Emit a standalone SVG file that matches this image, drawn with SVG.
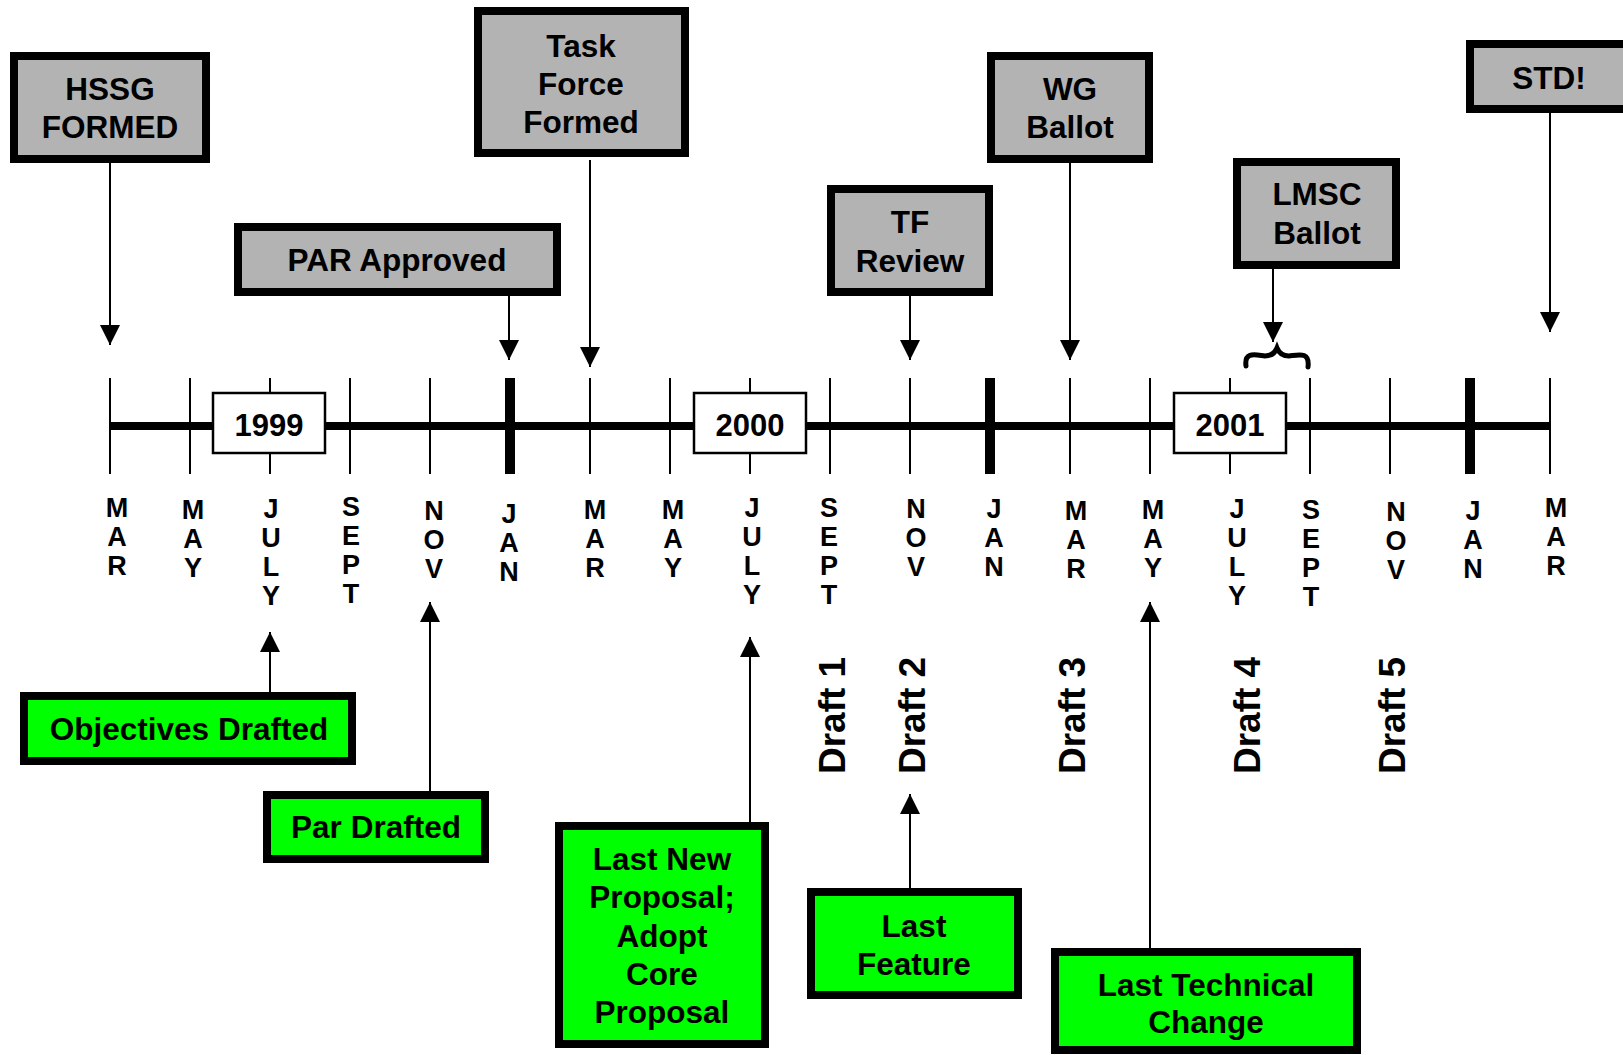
<svg xmlns="http://www.w3.org/2000/svg" width="1623" height="1055" viewBox="0 0 1623 1055">
<defs>
<style>
text{font-family:"Liberation Sans",Arial,sans-serif;font-weight:bold;fill:#000}
.gray{fill:#b3b3b3;stroke:#000;stroke-width:8}
.green{fill:#00ff00;stroke:#000;stroke-width:8}
.lbl{font-size:31.5px;text-anchor:middle}
.yr{fill:#fff;stroke:#000;stroke-width:2.5}
.yrt{font-size:31px;text-anchor:middle}
.mon{font-size:27px;text-anchor:middle}
.draft{font-size:37px}
.tick{stroke:#000;stroke-width:2}
.jan{stroke:#000;stroke-width:10}
.conn{stroke:#000;stroke-width:2;fill:none}
</style>
<marker id="ah" viewBox="0 0 20 20" refX="20" refY="10" markerWidth="21" markerHeight="20" markerUnits="userSpaceOnUse" orient="auto">
<path d="M0,0 L20,10 L0,20 z" fill="#000"/>
</marker>
</defs>
<rect width="1623" height="1055" fill="#fff"/>

<g id="timeline">
<line x1="110" y1="426" x2="1550" y2="426" stroke="#000" stroke-width="8"/>
<line class="tick" x1="110" y1="378" x2="110" y2="474"/>
<line class="tick" x1="190" y1="378" x2="190" y2="474"/>
<line class="tick" x1="270" y1="378" x2="270" y2="474"/>
<line class="tick" x1="350" y1="378" x2="350" y2="474"/>
<line class="tick" x1="430" y1="378" x2="430" y2="474"/>
<line class="jan" x1="510" y1="378" x2="510" y2="474"/>
<line class="tick" x1="590" y1="378" x2="590" y2="474"/>
<line class="tick" x1="670" y1="378" x2="670" y2="474"/>
<line class="tick" x1="750" y1="378" x2="750" y2="474"/>
<line class="tick" x1="830" y1="378" x2="830" y2="474"/>
<line class="tick" x1="910" y1="378" x2="910" y2="474"/>
<line class="jan" x1="990" y1="378" x2="990" y2="474"/>
<line class="tick" x1="1070" y1="378" x2="1070" y2="474"/>
<line class="tick" x1="1150" y1="378" x2="1150" y2="474"/>
<line class="tick" x1="1230" y1="378" x2="1230" y2="474"/>
<line class="tick" x1="1310" y1="378" x2="1310" y2="474"/>
<line class="tick" x1="1390" y1="378" x2="1390" y2="474"/>
<line class="jan" x1="1470" y1="378" x2="1470" y2="474"/>
<line class="tick" x1="1550" y1="378" x2="1550" y2="474"/>
</g>

<g id="year-1999"><rect class="yr" x="213" y="393" width="112" height="60"/><text class="yrt" x="269" y="436">1999</text></g>
<g id="year-2000"><rect class="yr" x="694" y="393" width="112" height="60"/><text class="yrt" x="750" y="436">2000</text></g>
<g id="year-2001"><rect class="yr" x="1174" y="393" width="112" height="60"/><text class="yrt" x="1230" y="436">2001</text></g>

<g id="months">
<text class="mon" y="517"><tspan x="117">M</tspan><tspan x="117" dy="29">A</tspan><tspan x="117" dy="29">R</tspan></text>
<text class="mon" y="519"><tspan x="193">M</tspan><tspan x="193" dy="29">A</tspan><tspan x="193" dy="29">Y</tspan></text>
<text class="mon" y="518"><tspan x="271">J</tspan><tspan x="271" dy="29">U</tspan><tspan x="271" dy="29">L</tspan><tspan x="271" dy="29">Y</tspan></text>
<text class="mon" y="516"><tspan x="351">S</tspan><tspan x="351" dy="29">E</tspan><tspan x="351" dy="29">P</tspan><tspan x="351" dy="29">T</tspan></text>
<text class="mon" y="520"><tspan x="434">N</tspan><tspan x="434" dy="29">O</tspan><tspan x="434" dy="29">V</tspan></text>
<text class="mon" y="523"><tspan x="509">J</tspan><tspan x="509" dy="29">A</tspan><tspan x="509" dy="29">N</tspan></text>
<text class="mon" y="519"><tspan x="595">M</tspan><tspan x="595" dy="29">A</tspan><tspan x="595" dy="29">R</tspan></text>
<text class="mon" y="519"><tspan x="673">M</tspan><tspan x="673" dy="29">A</tspan><tspan x="673" dy="29">Y</tspan></text>
<text class="mon" y="517"><tspan x="752">J</tspan><tspan x="752" dy="29">U</tspan><tspan x="752" dy="29">L</tspan><tspan x="752" dy="29">Y</tspan></text>
<text class="mon" y="517"><tspan x="829">S</tspan><tspan x="829" dy="29">E</tspan><tspan x="829" dy="29">P</tspan><tspan x="829" dy="29">T</tspan></text>
<text class="mon" y="518"><tspan x="916">N</tspan><tspan x="916" dy="29">O</tspan><tspan x="916" dy="29">V</tspan></text>
<text class="mon" y="518"><tspan x="994">J</tspan><tspan x="994" dy="29">A</tspan><tspan x="994" dy="29">N</tspan></text>
<text class="mon" y="520"><tspan x="1076">M</tspan><tspan x="1076" dy="29">A</tspan><tspan x="1076" dy="29">R</tspan></text>
<text class="mon" y="519"><tspan x="1153">M</tspan><tspan x="1153" dy="29">A</tspan><tspan x="1153" dy="29">Y</tspan></text>
<text class="mon" y="518"><tspan x="1237">J</tspan><tspan x="1237" dy="29">U</tspan><tspan x="1237" dy="29">L</tspan><tspan x="1237" dy="29">Y</tspan></text>
<text class="mon" y="519"><tspan x="1311">S</tspan><tspan x="1311" dy="29">E</tspan><tspan x="1311" dy="29">P</tspan><tspan x="1311" dy="29">T</tspan></text>
<text class="mon" y="521"><tspan x="1396">N</tspan><tspan x="1396" dy="29">O</tspan><tspan x="1396" dy="29">V</tspan></text>
<text class="mon" y="520"><tspan x="1473">J</tspan><tspan x="1473" dy="29">A</tspan><tspan x="1473" dy="29">N</tspan></text>
<text class="mon" y="517"><tspan x="1556">M</tspan><tspan x="1556" dy="29">A</tspan><tspan x="1556" dy="29">R</tspan></text>
</g>

<g id="drafts">
<text class="draft" transform="translate(845,774) rotate(-90)">Draft 1</text>
<text class="draft" transform="translate(925,774) rotate(-90)">Draft 2</text>
<text class="draft" transform="translate(1085,774) rotate(-90)">Draft 3</text>
<text class="draft" transform="translate(1260,774) rotate(-90)">Draft 4</text>
<text class="draft" transform="translate(1405,774) rotate(-90)">Draft 5</text>
</g>

<g id="connectors">
<line class="conn" x1="110" y1="163" x2="110" y2="345" marker-end="url(#ah)"/>
<line class="conn" x1="509" y1="296" x2="509" y2="360" marker-end="url(#ah)"/>
<line class="conn" x1="590" y1="160" x2="590" y2="367" marker-end="url(#ah)"/>
<line class="conn" x1="910" y1="296" x2="910" y2="360" marker-end="url(#ah)"/>
<line class="conn" x1="1070" y1="163" x2="1070" y2="360" marker-end="url(#ah)"/>
<line class="conn" x1="1273" y1="269" x2="1273" y2="342" marker-end="url(#ah)"/>
<line class="conn" x1="1550" y1="113" x2="1550" y2="332" marker-end="url(#ah)"/>
<line class="conn" x1="270" y1="692" x2="270" y2="632" marker-end="url(#ah)"/>
<line class="conn" x1="430" y1="791" x2="430" y2="602" marker-end="url(#ah)"/>
<line class="conn" x1="750" y1="822" x2="750" y2="637" marker-end="url(#ah)"/>
<line class="conn" x1="910" y1="888" x2="910" y2="794" marker-end="url(#ah)"/>
<line class="conn" x1="1150" y1="948" x2="1150" y2="602" marker-end="url(#ah)"/>
<path d="M1246,366 C1244,351 1256,355 1265,356 C1271,356 1275,353 1277,348 C1279,353 1283,356 1289,356 C1298,355 1310,351 1308,367" fill="none" stroke="#000" stroke-width="5" stroke-linecap="round"/>
</g>

<g id="hssg"><rect class="gray" x="14" y="56" width="192" height="103"/><text class="lbl" x="110" y="100">HSSG</text><text class="lbl" x="110" y="138">FORMED</text></g>
<g id="task-force"><rect class="gray" x="478" y="11" width="207" height="142"/><text class="lbl" x="581" y="57">Task</text><text class="lbl" x="581" y="95">Force</text><text class="lbl" x="581" y="133">Formed</text></g>
<g id="par-approved"><rect class="gray" x="238" y="227" width="319" height="65"/><text class="lbl" x="397" y="271">PAR Approved</text></g>
<g id="tf-review"><rect class="gray" x="831" y="189" width="158" height="103"/><text class="lbl" x="910" y="233">TF</text><text class="lbl" x="910" y="272">Review</text></g>
<g id="wg-ballot"><rect class="gray" x="991" y="56" width="158" height="103"/><text class="lbl" x="1070" y="100">WG</text><text class="lbl" x="1070" y="138">Ballot</text></g>
<g id="lmsc-ballot"><rect class="gray" x="1237" y="162" width="159" height="103"/><text class="lbl" x="1317" y="205">LMSC</text><text class="lbl" x="1317" y="244">Ballot</text></g>
<g id="std"><rect class="gray" x="1470" y="44" width="200" height="65"/><text class="lbl" x="1549" y="89">STD!</text></g>

<g id="objectives"><rect class="green" x="24" y="696" width="328" height="65"/><text class="lbl" x="189" y="740">Objectives Drafted</text></g>
<g id="par-drafted"><rect class="green" x="267" y="795" width="218" height="64"/><text class="lbl" x="376" y="838">Par Drafted</text></g>
<g id="last-new"><rect class="green" x="559" y="826" width="206" height="218"/><text class="lbl" x="662" y="870">Last New</text><text class="lbl" x="662" y="908">Proposal;</text><text class="lbl" x="662" y="947">Adopt</text><text class="lbl" x="662" y="985">Core</text><text class="lbl" x="662" y="1023">Proposal</text></g>
<g id="last-feature"><rect class="green" x="811" y="892" width="207" height="103"/><text class="lbl" x="914" y="937">Last</text><text class="lbl" x="914" y="975">Feature</text></g>
<g id="last-technical"><rect class="green" x="1055" y="952" width="302" height="98"/><text class="lbl" x="1206" y="996">Last Technical</text><text class="lbl" x="1206" y="1033">Change</text></g>
</svg>
